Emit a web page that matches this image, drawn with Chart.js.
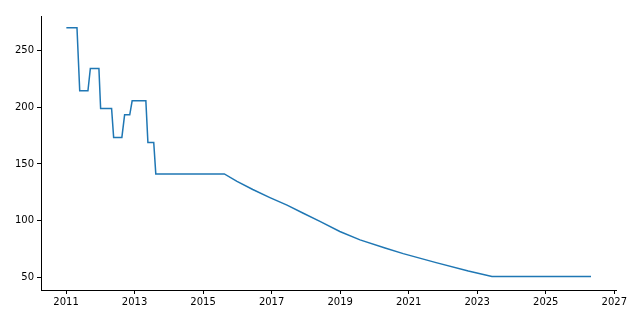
<!DOCTYPE html>
<html>
<head>
<meta charset="utf-8">
<script src="https://cdn.jsdelivr.net/npm/chart.js@4/dist/chart.umd.min.js"></script>
<style>
  body { margin: 0; background: #fff; }
</style>
</head>
<body>
<canvas id="chart" width="640" height="320"></canvas>
<script>
// decimal years of each corner point
const years = [
  2011.01, 2011.32, 2011.40, 2011.64, 2011.71, 2011.96, 2012.01, 2012.33,
  2012.39, 2012.63, 2012.71, 2012.86, 2012.93, 2013.33, 2013.39, 2013.56,
  2013.62, 2015.62, 2015.99, 2016.45, 2016.95, 2017.45, 2017.91, 2018.41,
  2018.99, 2019.58, 2020.31, 2020.84, 2021.80, 2022.74, 2023.43, 2026.32
];
const values = [
  269.8, 269.8, 214.3, 214.3, 233.9, 233.9, 198.8, 198.8,
  173.3, 173.3, 193.2, 193.2, 205.5, 205.5, 168.9, 168.9,
  141.2, 141.2, 134.7, 127.5, 120.4, 113.7, 106.8, 99.4,
  90.6, 83.2, 76.1, 71.1, 63.2, 55.8, 50.9, 50.9
];
const xTicks = [2011, 2013, 2015, 2017, 2019, 2021, 2023, 2025, 2027];
const yTicks = [50, 100, 150, 200, 250];

const points = years.map((x, i) => ({ x: x, y: values[i] }));

const font = { family: "'DejaVu Sans', sans-serif", size: 10 };

new Chart(document.getElementById("chart").getContext("2d"), {
  type: "line",
  data: {
    datasets: [
      {
        data: points,
        borderColor: "#1f77b4",
        borderWidth: 1.5,
        pointRadius: 0,
        tension: 0,
        fill: false,
      },
    ],
  },
  options: {
    responsive: false,
    animation: false,
    layout: { padding: { top: 16, right: 24, left: 0, bottom: 0 } },
    plugins: { legend: { display: false }, tooltip: { enabled: false } },
    scales: {
      x: {
        type: "linear",
        min: 2010.27,
        max: 2027.05,
        afterBuildTicks: (s) => { s.ticks = xTicks.map((v) => ({ value: v })); },
        afterFit: (s) => { s.height = 30; },
        grid: { drawOnChartArea: false, drawTicks: true, tickLength: 4, color: "#000" },
        border: { display: true, color: "#000", width: 1 },
        ticks: { color: "#000", font: font, padding: 2, maxRotation: 0, callback: (v) => String(v) },
      },
      y: {
        min: 39.1,
        max: 280.1,
        afterBuildTicks: (s) => { s.ticks = yTicks.map((v) => ({ value: v })); },
        afterFit: (s) => { s.width = 41; },
        grid: { drawOnChartArea: false, drawTicks: true, tickLength: 4, color: "#000" },
        border: { display: true, color: "#000", width: 1 },
        ticks: { color: "#000", font: font, padding: 3, callback: (v) => String(v) },
      },
    },
  },
});
</script>
</body>
</html>
